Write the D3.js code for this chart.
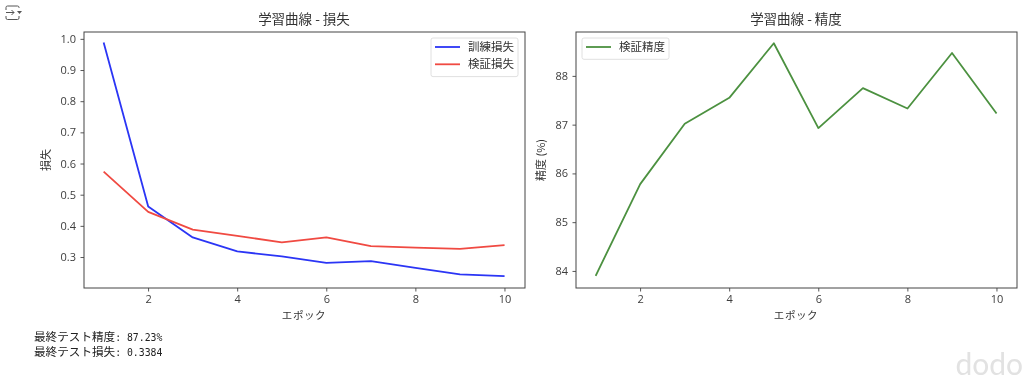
<!DOCTYPE html>
<html><head><meta charset="utf-8">
<script src="https://cdnjs.cloudflare.com/ajax/libs/d3/7.8.5/d3.min.js"></script>
<style>
html,body{margin:0;padding:0;background:#fff;overflow:hidden}
svg{display:block;filter:blur(0.4px)}
text{font-family:"DejaVu Sans",sans-serif;fill:#333}
.jp{font-family:"Noto Sans CJK JP","DejaVu Sans",sans-serif}
.mono{font-family:"DejaVu Sans Mono",monospace}
</style></head><body>
<svg id="c" width="1024" height="377"></svg>
<script>
const epochs=[1,2,3,4,5,6,7,8,9,10];
const trainLoss=[0.988,0.462,0.363,0.318,0.302,0.281,0.287,0.265,0.244,0.239];
const valLoss=[0.574,0.445,0.388,0.368,0.347,0.363,0.335,0.330,0.326,0.3384];
const valAcc=[83.9,85.78,87.02,87.55,88.67,86.93,87.75,87.33,88.47,87.23];
const xTicks=[2,4,6,8,10];
const lossTicks=[0.3,0.4,0.5,0.6,0.7,0.8,0.9,1.0];
const accTicks=[84,85,86,87,88];
const titles=["学習曲線 - 損失","学習曲線 - 精度"];
const xLabel="エポック";
const yLabels=["損失","精度 (%)"];
const lossNames=["訓練損失","検証損失"];
const accNames=["検証精度"];
const noteLabels=["最終テスト精度","最終テスト損失"];
const noteValues=[": 87.23%",": 0.3384"];

const svg=d3.select("#c");
const BLUE="#2b35f5",RED="#f04a42",GREEN="#4c9140",INK="#444";

function panel(o){
  const g=svg.append("g");
  const x=d3.scaleLinear().domain([0.55,10.45]).range([o.l,o.r]);
  const y=d3.scaleLinear().domain(o.yDomain).range([o.b,o.t]);
  const xa=g.append("g").attr("transform",`translate(-0.5,${o.b})`)
    .call(d3.axisBottom(x).tickValues(xTicks).tickFormat(d3.format("d")).tickSize(3.5).tickPadding(3.5));
  const ya=g.append("g").attr("transform",`translate(${o.l},0)`)
    .call(d3.axisLeft(y).tickValues(o.yTicks).tickFormat(o.fmt).tickSize(3.5).tickPadding(4.5));
  [xa,ya].forEach(a=>{a.select(".domain").remove();
    a.selectAll("line").attr("stroke",INK).attr("stroke-width",0.9);
    a.selectAll("text").attr("font-size",11).style("fill","#3d3d3d").style("font-family","'Open Sans','DejaVu Sans',sans-serif");});
  const line=d3.line().x((d,i)=>x(epochs[i])-0.4).y(d=>y(d));
  o.series.forEach(s=>g.append("path").datum(s.v).attr("d",line)
    .attr("fill","none").attr("stroke",s.c).attr("stroke-width",1.8).attr("stroke-linejoin","round"));
  g.append("rect").attr("x",o.l).attr("y",o.t).attr("width",o.r-o.l).attr("height",o.b-o.t)
    .attr("fill","none").attr("stroke",INK).attr("stroke-width",1);
  g.append("text").attr("class","jp").attr("x",(o.l+o.r)/2-0.5).attr("y",o.t-8).attr("text-anchor","middle")
    .attr("font-size",13.5).text(o.title);
  g.append("text").attr("class","jp").attr("x",(o.l+o.r)/2-0.5).attr("y",319).attr("text-anchor","middle")
    .attr("font-size",10.5).attr("letter-spacing",0.6).text(xLabel);
  g.append("text").attr("class","jp").attr("transform",`translate(${o.yl},${(o.t+o.b)/2}) rotate(-90)`)
    .attr("text-anchor","middle").attr("font-size",11).text(o.yLabel);
  const lg=g.append("g").attr("transform",`translate(${o.lx},${o.ly})`);
  lg.append("rect").attr("width",o.lw).attr("height",4+17.3*o.series.length).attr("rx",2)
    .attr("fill","#fff").attr("stroke","#dcdcdc").attr("stroke-width",0.9);
  o.series.forEach((s,i)=>{
    const yy=9+17.3*i;
    lg.append("line").attr("x1",4).attr("x2",29).attr("y1",yy).attr("y2",yy).attr("stroke",s.c).attr("stroke-width",1.8);
    lg.append("text").attr("class","jp").attr("x",37).attr("y",yy+4).attr("font-size",11.5).text(s.n);
  });
}
panel({l:84,r:525,t:32,b:288,yDomain:[0.2006,1.022],yTicks:lossTicks,fmt:d3.format(".1f"),
  title:titles[0],yLabel:yLabels[0],yl:50,lx:431,ly:38,lw:87,
  series:[{v:trainLoss,c:BLUE,n:lossNames[0]},{v:valLoss,c:RED,n:lossNames[1]}]});
panel({l:576,r:1017,t:32,b:288,yDomain:[83.65,88.9],yTicks:accTicks,fmt:d3.format("d"),
  title:titles[1],yLabel:yLabels[1],yl:545,lx:582,ly:38,lw:87,
  series:[{v:valAcc,c:GREEN,n:accNames[0]}]});

noteLabels.forEach((t,i)=>{
  const tx=svg.append("text").attr("x",34).attr("y",341+15*i);
  tx.append("tspan").attr("class","jp").attr("font-size",11.6).style("fill","#222").text(t);
  tx.append("tspan").attr("class","mono").attr("font-size",9.8).style("fill","#222").text(noteValues[i]);
});
svg.append("text").attr("x",1023).attr("y",375).attr("text-anchor","end").attr("font-size",30)
  .style("font-family","Lato,'Open Sans',sans-serif").style("fill","#e2e2e2").text("dodo");
const ic=svg.append("g").attr("fill","none").attr("stroke","#555").attr("stroke-width",1);
ic.append("path").attr("d","M6 10V7.5Q6 6 7.5 6H17.5Q19 6 19 7.5V8M6 16V18Q6 19.5 7.5 19.5H17.5Q19 19.5 19 18V16");
ic.append("path").attr("d","M6 12.5H14M11.5 10L14 12.5L11.5 15");
svg.append("path").attr("d","M17 11H22L19.5 14Z").attr("fill","#555");
</script></body></html>
